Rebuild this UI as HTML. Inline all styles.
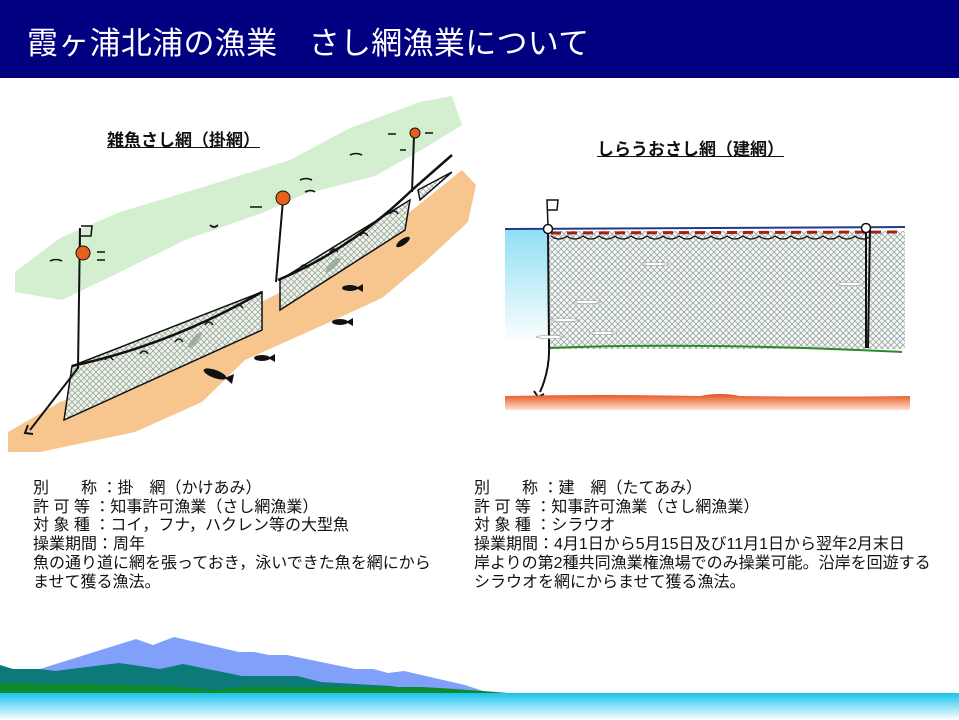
<!DOCTYPE html>
<html><head><meta charset="utf-8"><style>
body{margin:0;width:959px;height:720px;overflow:hidden;background:#fff;font-family:"Liberation Sans","Noto Sans CJK JP",sans-serif;}
.hd{position:absolute;left:0;top:0;width:959px;height:78px;background:#000080;}
.hd div{position:absolute;left:27px;top:18px;color:#fff;font-size:31px;letter-spacing:0.3px;white-space:pre;}
.t{position:absolute;font-size:16px;line-height:18.7px;color:#111;white-space:pre;}
.h{position:absolute;font-size:17px;font-weight:bold;text-decoration:underline;color:#111;white-space:pre;}
svg{position:absolute;left:0;top:0;}
</style></head><body>
<div class="hd"><div>霞ヶ浦北浦の漁業　さし網漁業について</div></div>
<svg width="959" height="720">
<defs>
<pattern id="net" width="6" height="6" patternUnits="userSpaceOnUse">
<path d="M0 0L6 6M6 0L0 6" stroke="#9aa6a4" stroke-width="0.8"/></pattern>
<linearGradient id="wt" x1="0" y1="0" x2="0" y2="1"><stop offset="0" stop-color="#8fdff3"/><stop offset="1" stop-color="#fff"/></linearGradient>
<linearGradient id="gr" x1="0" y1="0" x2="0" y2="1"><stop offset="0" stop-color="#e8501c"/><stop offset="1" stop-color="#fde0d0"/></linearGradient>
<linearGradient id="lk" x1="0" y1="0" x2="0" y2="1"><stop offset="0" stop-color="#18c4ee"/><stop offset="1" stop-color="#fff"/></linearGradient>
</defs>
<path d="M15,272 L60,238 L120,212 L200,188 L290,160 L350,128 L420,102 L452,96 L462,125 L425,148 L375,176 L305,194 L262,213 L185,240 L112,276 L62,300 L15,292Z" fill="#d3efd0"/>
<path d="M8,432 L60,402 L140,372 L205,330 L285,290 L385,232 L462,170 L476,185 L468,222 L425,262 L382,298 L330,322 L245,360 L202,402 L135,432 L40,452 L8,452Z" fill="#f7c68e"/>
<path d="M72,366 L262,292 L262,330 L64,420Z" fill="#eef5e6"/>
<path d="M72,366 L262,292 L262,330 L64,420Z" fill="url(#net)" stroke="#111" stroke-width="1.5"/>
<path d="M280,280 L410,200 L405,230 L280,310Z" fill="#eef5e6"/>
<path d="M280,280 L410,200 L405,230 L280,310Z" fill="url(#net)" stroke="#111" stroke-width="1.5"/>
<path d="M418,190 L452,172 L420,200Z" fill="url(#net)" stroke="#111" stroke-width="1.5"/>
<path d="M72,366 Q170,345 262,292 M278,280 Q350,250 412,190 L452,155" fill="none" stroke="#111" stroke-width="2.5"/>
<path d="M105,360 q4,-6 8,0 M140,354 q4,-6 8,0 M175,342 q4,-6 8,0 M205,325 q4,-6 8,0 M235,308 q4,-6 8,0 M300,268 q4,-6 8,0 M330,252 q4,-6 8,0 M360,236 q4,-6 8,0 M390,214 q4,-6 8,0" fill="none" stroke="#111" stroke-width="1.5"/>
<path d="M80,228 L78,368 L30,430 M283,200 L276,282 M414,135 L412,192" stroke="#111" stroke-width="2" fill="none"/>
<path d="M80,228 L80,248 M81,226 L92,226 L91,236 L81,236" stroke="#111" stroke-width="1.5" fill="none"/>
<circle cx="83" cy="253" r="7" fill="#e8601c" stroke="#111"/>
<circle cx="283" cy="198" r="7" fill="#e8601c" stroke="#111"/>
<circle cx="415" cy="133" r="5" fill="#e8601c" stroke="#111"/>
<path d="M28,425 l-3,8 l8,1" stroke="#111" stroke-width="2" fill="none"/>
<g stroke="#111" stroke-width="1.6" fill="none">
<path d="M50,261 q6,-3 12,0 M97,252 h8 M97,260 h8 M210,225 q4,4 8,0 M250,207 h12 M300,180 q6,-3 12,0 M305,192 q6,-3 10,0 M350,155 q6,-3 12,0 M388,134 h8 M400,150 h6 M425,133 h8"/>
</g>
<g fill="#111">
<ellipse cx="215" cy="374" rx="12" ry="4" transform="rotate(20 215 374)"/><path d="M225,378 l9,-4 l-2,10z"/>
<ellipse cx="262" cy="358" rx="8" ry="3"/><path d="M268,358 l7,-4 l0,8z"/>
<ellipse cx="340" cy="322" rx="8" ry="3"/><path d="M346,322 l7,-4 l0,8z"/>
<ellipse cx="350" cy="288" rx="8" ry="3"/><path d="M356,288 l7,-4 l0,8z"/>
<ellipse cx="403" cy="242" rx="8" ry="3" transform="rotate(-35 403 242)"/>
</g>
<g fill="#8fa690" opacity="0.8">
<ellipse cx="195" cy="340" rx="10" ry="3" transform="rotate(-50 195 340)"/>
<ellipse cx="333" cy="265" rx="10" ry="3" transform="rotate(-45 333 265)"/>
</g>
<rect x="505" y="229" width="44" height="115" fill="url(#wt)"/>
<path d="M505,229 L905,227" stroke="#1e3c8c" stroke-width="2"/>
<rect x="549" y="231" width="356" height="118" fill="#f4f8f7"/>
<rect x="549" y="231" width="356" height="118" fill="url(#net)"/>
<path d="M549,348 Q700,342 902,352" stroke="#2a8a2a" stroke-width="2" fill="none"/>
<path d="M551,233 L903,232" stroke="#a02020" stroke-width="3" stroke-dasharray="10,6"/>
<path d="M551,236 q8,6 16,0 q8,6 16,0 q8,6 16,0 q8,6 16,0 q8,6 16,0 q8,6 16,0 q8,6 16,0 q8,6 16,0 q8,6 16,0 q8,6 16,0 q8,6 16,0 q8,6 16,0 q8,6 16,0 q8,6 16,0 q8,6 16,0 q8,6 16,0 q8,6 16,0 q8,6 16,0 q8,6 16,0 q8,6 16,0" stroke="#111" stroke-width="1.3" fill="none"/>
<path d="M548,230 L549,345 Q550,370 540,392 M866,228 L866,348 M870,228 L868,348" stroke="#111" stroke-width="2" fill="none"/>
<path d="M548,226 L547,200 L558,200 L557,210 L548,210" stroke="#111" stroke-width="1.5" fill="none"/>
<path d="M534,391 l4,6 l6,-3" stroke="#111" stroke-width="2" fill="none"/>
<circle cx="548" cy="229" r="4.5" fill="#fff" stroke="#111" stroke-width="1.5"/>
<circle cx="866" cy="228" r="4.5" fill="#fff" stroke="#111" stroke-width="1.5"/>
<path d="M505,396 Q600,394 700,396 Q720,392 740,396 Q820,397 910,396 L910,410 L505,410Z" fill="url(#gr)"/>
<g fill="#fff" stroke="#999" stroke-width="0.6">
<ellipse cx="655" cy="264" rx="14" ry="1.5"/><ellipse cx="587" cy="302" rx="14" ry="1.5"/><ellipse cx="565" cy="320" rx="14" ry="1.5"/><ellipse cx="603" cy="333" rx="14" ry="1.5"/><ellipse cx="550" cy="337" rx="14" ry="1.5"/><ellipse cx="850" cy="284" rx="14" ry="1.5"/>
</g>
<path d="M40,669 L136,639 L153,645 L174,637 L239,652 L254,652 L269,655 L287,655 L355,669 L373,669 L388,673 L404,671 L465,685 L483,691 L520,694 L40,694Z" fill="#80a0fa"/>
<path d="M0,665 L13,669 L40,669 L55,671 L119,663 L160,669 L183,664 L242,676 L297,676 L321,682 L391,686 L428,692 L440,694 L0,694Z" fill="#0b7a78"/>
<path d="M0,683 L80,684 L171,686 L214,690 L245,687 L422,687 L440,688 L483,691 L520,694 L0,694Z" fill="#0d8a2c"/>
<rect x="0" y="693" width="959" height="27" fill="url(#lk)"/>
</svg>
<div class="h" style="left:107px;top:126px;">雑魚さし網（掛網）</div>
<div class="h" style="left:597px;top:135px;">しらうおさし網（建網）</div>
<div class="t" style="left:33px;top:480px;">別　　称 ：掛　網（かけあみ）
許 可 等 ：知事許可漁業（さし網漁業）
対 象 種 ：コイ，フナ，ハクレン等の大型魚
操業期間：周年
魚の通り道に網を張っておき，泳いできた魚を網にから
ませて獲る漁法。</div>
<div class="t" style="left:474px;top:480px;">別　　称 ：建　網（たてあみ）
許 可 等 ：知事許可漁業（さし網漁業）
対 象 種 ：シラウオ
操業期間：4月1日から5月15日及び11月1日から翌年2月末日
岸よりの第2種共同漁業権漁場でのみ操業可能。沿岸を回遊する
シラウオを網にからませて獲る漁法。</div>
</body></html>
